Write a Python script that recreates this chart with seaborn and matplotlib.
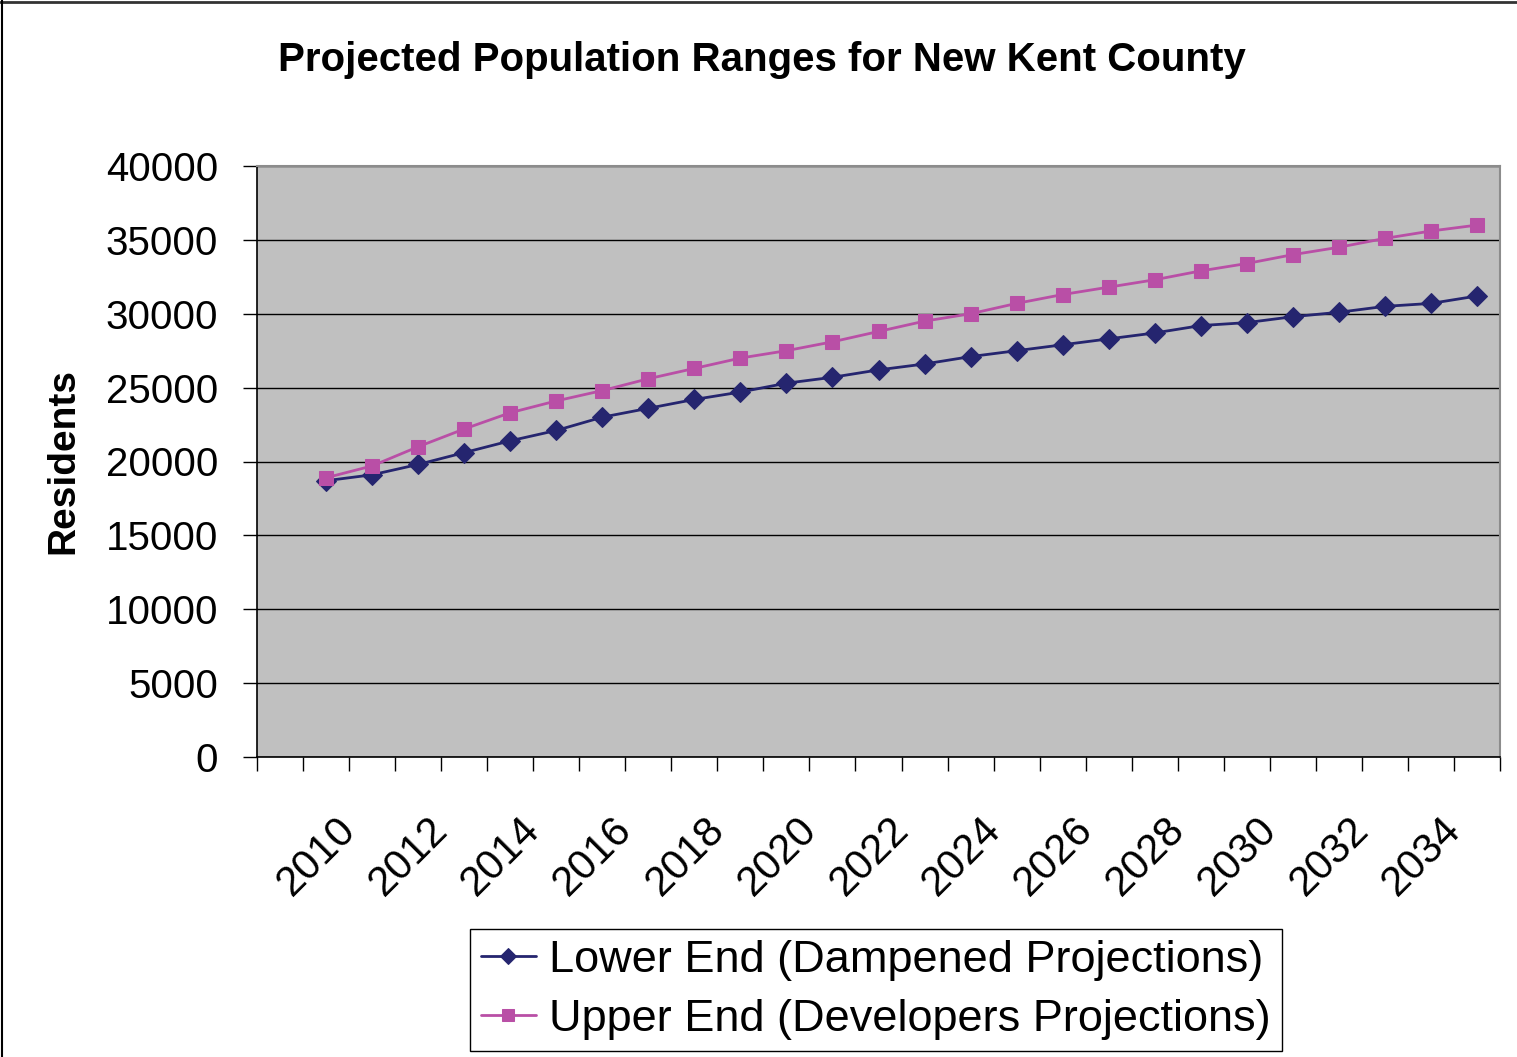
import numpy as np
import matplotlib
matplotlib.use('Agg')
import matplotlib.pyplot as plt
import matplotlib.transforms as mtransforms
from matplotlib.lines import Line2D
import seaborn as sns

# projected residents
years = list(range(2010, 2036))
lower_end = [18700, 19100, 19800, 20600, 21400, 22100, 23000, 23600,
             24200, 24700, 25300, 25700, 26200, 26600, 27100, 27500,
             27900, 28300, 28700, 29200, 29400, 29800, 30100, 30500,
             30700, 31200]
upper_end = [18900, 19700, 21000, 22200, 23300, 24100, 24800, 25600,
             26300, 27000, 27500, 28100, 28800, 29500, 30000, 30700,
             31300, 31800, 32300, 32900, 33400, 34000, 34500, 35100,
             35600, 36000]
lower_label = 'Lower End (Dampened Projections)'
upper_label = 'Upper End (Developers Projections)'
y_ticks = [0, 5000, 10000, 15000, 20000, 25000, 30000, 35000, 40000]

sns.set_style('white')
plt.rcParams['font.family'] = ['Liberation Sans', 'DejaVu Sans']
plt.rcParams['text.color'] = 'black'
plt.rcParams['axes.labelcolor'] = 'black'
plt.rcParams['xtick.color'] = 'black'
plt.rcParams['ytick.color'] = 'black'

W, H = 1517, 1057
fig = plt.figure(figsize=(W / 100, H / 100), dpi=100)
ax = fig.add_axes([257 / W, 1 - 757 / H, 1243 / W, 591 / H])
ax.set_facecolor('#C0C0C0')

# category axis: first slot is empty, years take slots 1..26
pos = np.arange(1, len(years) + 1)

sns.lineplot(x=pos, y=lower_end, ax=ax, color='#25256F', linewidth=2,
             marker='D', markersize=10, markeredgecolor='#25256F',
             label=lower_label)
sns.lineplot(x=pos, y=upper_end, ax=ax, color='#B94FA6', linewidth=2,
             marker='s', markersize=10.5, markeredgecolor='#B94FA6',
             label=upper_label)

ax.set_xlim(-0.5, len(years) + 0.5)
ax.set_ylim(0, 40000)
ax.set_yticks(y_ticks)
ax.set_yticklabels([str(v) for v in y_ticks])
ax.yaxis.grid(True, color='black', linewidth=1)
ax.xaxis.grid(False)
ax.set_axisbelow(True)

ax.set_xticks(pos[::2])
ax.set_xticklabels([str(y) for y in years[::2]])
ax.set_xticks(np.arange(-0.5, len(years) + 1, 1), minor=True)
ax.tick_params(axis='x', which='major', length=0, pad=38, labelsize=30)
ax.tick_params(axis='x', which='minor', bottom=True, length=10, width=1,
               color='black', direction='out')
ax.tick_params(axis='y', left=True, length=10, width=1, color='black',
               direction='out', pad=18, labelsize=29)

offset = mtransforms.ScaledTranslation(0.38, 0, fig.dpi_scale_trans)
for lab in ax.get_xticklabels():
    lab.set_rotation(45)
    lab.set_ha('right')
    lab.set_transform(lab.get_transform() + offset)

for side in ['left', 'bottom']:
    ax.spines[side].set_color('black')
    ax.spines[side].set_linewidth(1.2)
for side in ['top', 'right']:
    ax.spines[side].set_color('#8C8C8C')
    ax.spines[side].set_linewidth(1.5)

ax.set_xlabel('')
ax.set_ylabel('Residents', fontsize=28, fontweight='bold')
ax.yaxis.set_label_coords(-0.141, 0.5)

fig.text(762 / W, 1 - 60 / H, 'Projected Population Ranges for New Kent County',
         ha='center', va='center', fontsize=29, fontweight='bold')

ax.legend(loc='center', bbox_to_anchor=(876 / W, 1 - 990 / H),
          bbox_transform=fig.transFigure, fontsize=32.5, frameon=True,
          fancybox=False, edgecolor='black', framealpha=1,
          handlelength=1.2, handletextpad=0.3, borderpad=0.25,
          labelspacing=0.4, markerscale=0.8, borderaxespad=0)
ax.get_legend().get_frame().set_linewidth(1)

# outer chart border (top and left only visible)
fig.add_artist(Line2D([0, 1], [1 - 1.5 / H, 1 - 1.5 / H], color='#333333',
                      linewidth=2, transform=fig.transFigure))
fig.add_artist(Line2D([1.5 / W, 1.5 / W], [0, 1], color='black',
                      linewidth=1.5, transform=fig.transFigure))

fig.savefig('out.png', dpi=100)
